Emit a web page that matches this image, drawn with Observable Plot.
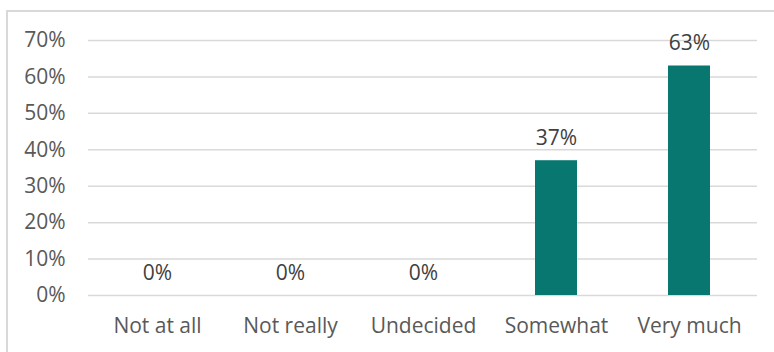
<!DOCTYPE html>
<html>
<head>
<meta charset="utf-8">
<script src="https://cdn.jsdelivr.net/npm/d3@7"></script>
<script src="https://cdn.jsdelivr.net/npm/@observablehq/plot@0.6"></script>
<style>
  html, body { margin: 0; padding: 0; background: #fff; overflow: hidden; }
  #wrap { position: relative; width: 774px; height: 352px; overflow: hidden; }
  #frame { position: absolute; left: 6px; top: 10px; width: 900px; height: 500px; border: 2px solid #d9d9d9; box-sizing: border-box; }
  #chart { position: absolute; left: 0; top: 0; }
</style>
</head>
<body>
<div id="wrap"><div id="frame"></div><div id="chart"></div></div>
<script>
const categories = ["Not at all", "Not really", "Undecided", "Somewhat", "Very much"];
const values = [0, 0, 0, 0.37, 0.63];
const yTicks = [0, 0.1, 0.2, 0.3, 0.4, 0.5, 0.6, 0.7];

const data = categories.map((c, i) => ({category: c, value: values[i]}));
const pct = d => Math.round(d * 100) + "%";

const chart = Plot.plot({
  width: 774,
  height: 352,
  marginLeft: 88,
  marginRight: 17,
  marginTop: 40,
  marginBottom: 57,
  style: {fontFamily: "'Open Sans', sans-serif", fontSize: "21px", color: "#595959", background: "transparent"},
  x: {domain: categories, paddingInner: 0.686, paddingOuter: 0.343, label: null, tickSize: 0, tickPadding: 23},
  y: {domain: [0, 0.7], ticks: yTicks, tickFormat: pct, label: null, tickSize: 0, tickPadding: 23},
  marks: [
    Plot.ruleY(yTicks, {stroke: "#d9d9d9", strokeWidth: 1.5, strokeOpacity: 1}),
    Plot.barY(data, {x: "category", y: "value", fill: "#07776F"}),
    Plot.text(data, {x: "category", y: "value", text: d => pct(d.value), lineAnchor: "bottom", dy: -16, fill: "#404040", fontSize: 21})
  ]
});
document.getElementById("chart").appendChild(chart);
</script>
</body>
</html>
